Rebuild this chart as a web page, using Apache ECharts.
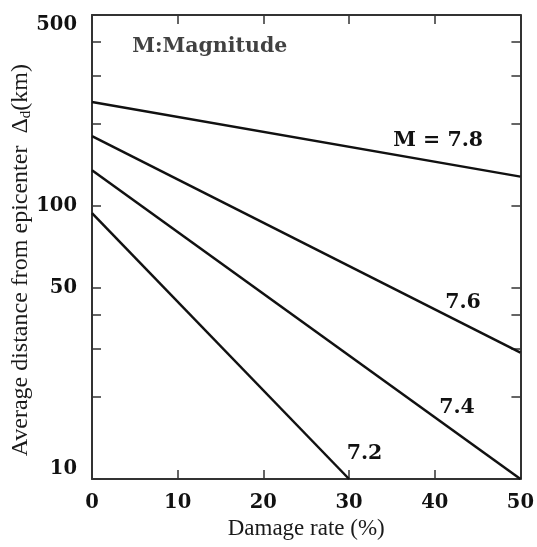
<!DOCTYPE html>
<html>
<head>
<meta charset="utf-8">
<script src="https://cdn.jsdelivr.net/npm/echarts@6/dist/echarts.min.js"></script>
<style>html,body{margin:0;padding:0;background:#fff}#c{width:537px;height:547px}</style>
</head>
<body>
<div id="c"></div>
<script>
// Data
var m78 = [[0, 240], [50, 128]];
var m76 = [[0, 180], [50, 29]];
var m74 = [[0, 135], [50, 10]];
var m72 = [[0, 94], [30, 10]];
var xTicks = [0, 10, 20, 30, 40, 50];
var yTickValues = [10, 20, 30, 40, 50, 100, 200, 300, 400, 500];
var yLabelValues = [10, 50, 100, 500];
var lineLabels = [
  {text: 'M = 7.8', at: [40.4, 174]},
  {text: '7.6', at: [43.3, 44.4]},
  {text: '7.4', at: [42.6, 18.3]},
  {text: '7.2', at: [31.8, 12.4]}
];
var noteText = 'M:Magnitude';
var noteAt = [4.7, 382];

var TICKFONT = {fontFamily: 'DejaVu Serif', fontWeight: 'bold', fontSize: 19.5, color: '#111'};
var NOTEFONT = {fontFamily: 'DejaVu Serif', fontWeight: 'bold', fontSize: 20.5, color: '#111'};
var axisLine = {show: true, onZero: false, lineStyle: {color: '#333', width: 2}};
var tick = {show: true, inside: true, length: 9, lineStyle: {color: '#333', width: 1.5}};

function lineSeries(data, label) {
  return {
    type: 'line', data: data, symbol: 'none', silent: true,
    lineStyle: {color: '#111', width: 2.5},
    xAxisIndex: 0, yAxisIndex: 0,
    markPoint: {
      symbol: 'circle', symbolSize: 0, silent: true,
      label: Object.assign({show: true, position: 'inside'}, NOTEFONT),
      data: [{coord: label.at, value: label.text, label: {formatter: label.text}}]
    }
  };
}

var chart = echarts.init(document.getElementById('c'), null, {renderer: 'canvas'});
chart.setOption({
  animation: false,
  backgroundColor: '#fff',
  grid: {left: 92, right: 10, top: 15, bottom: 68, containLabel: false},
  xAxis: [{
    type: 'value', position: 'bottom', min: 0, max: 50, interval: 10,
    axisLine: axisLine, axisTick: tick, splitLine: {show: false},
    axisLabel: Object.assign({margin: 14, formatter: function (v) { return xTicks.indexOf(v) >= 0 ? String(v) : ''; }}, TICKFONT),
    name: 'Damage rate (%)', nameLocation: 'middle', nameGap: 37,
    nameTextStyle: {fontFamily: 'Liberation Serif', fontSize: 23, color: '#1a1a1a'}
  }, {
    type: 'value', position: 'top', min: 0, max: 50, interval: 10,
    axisLine: axisLine, axisTick: tick, splitLine: {show: false}, axisLabel: {show: false}
  }],
  yAxis: [{
    type: 'log', logBase: 10, min: 10, max: 500, position: 'left',
    axisLine: axisLine,
    axisTick: Object.assign({customValues: yTickValues}, tick),
    minorTick: {show: false}, splitLine: {show: false}, minorSplitLine: {show: false},
    axisLabel: Object.assign({customValues: yLabelValues, margin: 15,
      verticalAlignMinLabel: 'bottom', verticalAlignMaxLabel: 'top'}, TICKFONT)
  }, {
    type: 'log', logBase: 10, min: 10, max: 500, position: 'right',
    axisLine: axisLine,
    axisTick: Object.assign({customValues: yTickValues}, tick),
    minorTick: {show: false}, splitLine: {show: false}, axisLabel: {show: false}
  }],
  graphic: [{
    type: 'text', left: 9, top: 64, rotation: Math.PI / 2,
    style: {
      text: '{n|Average distance from epicenter  Δ}{s|d}{n|(km)}',
      rich: {
        n: {fontFamily: 'Liberation Serif', fontSize: 24, fill: '#1a1a1a'},
        s: {fontFamily: 'Liberation Serif', fontSize: 15, fill: '#1a1a1a', padding: [11, 0, 0, 0]}
      }
    }
  }],
  series: [
    lineSeries(m78, lineLabels[0]),
    lineSeries(m76, lineLabels[1]),
    lineSeries(m74, lineLabels[2]),
    lineSeries(m72, lineLabels[3]),
    {
      type: 'scatter', data: [noteAt], symbolSize: 0, silent: true,
      label: Object.assign({show: true, position: 'right', distance: 0, formatter: noteText}, NOTEFONT)
    }
  ]
});
</script>
</body>
</html>
